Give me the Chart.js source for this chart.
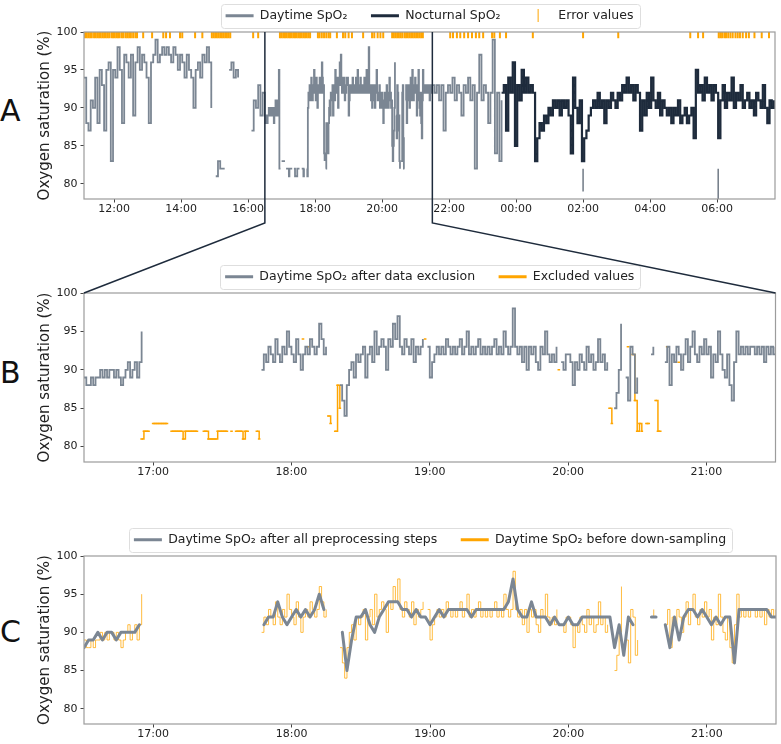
<!DOCTYPE html>
<html>
<head>
<meta charset="utf-8">
<title>SpO2 preprocessing</title>
<script src="https://cdn.jsdelivr.net/npm/chart.js@4.4.1/dist/chart.umd.min.js"></script>
<style>
  html, body { margin: 0; padding: 0; background: #fff; }
  body { width: 781px; height: 744px; position: relative; overflow: hidden; font-family: 'DejaVu Sans', sans-serif; }
  .panel { position: absolute; left: 0; }
  .letter { position: absolute; left: 0; font-size: 30px; line-height: 30px; color: #111; }
  #links { position: absolute; left: 0; top: 0; pointer-events: none; }
</style>
</head>
<body>
<div class="letter" style="top:96px">A</div>
<div class="letter" style="top:358px">B</div>
<div class="letter" style="top:617px">C</div>
<canvas id="chartA" class="panel" width="781" height="233" style="top:-14px"></canvas>
<canvas id="chartB" class="panel" width="781" height="235" style="top:247px"></canvas>
<canvas id="chartC" class="panel" width="781" height="234" style="top:510px"></canvas>
<canvas id="links" width="781" height="744"></canvas>
<script>
// Colours
const GRAY = '#7b8693';
const NAVY = '#1e2b3c';
const ORANGE = '#ffa500';

// Axes
const A_MIN = 11.1, A_MAX = 31.73;          // 11:06 -> 07:44 next morning (hours)
const ZOOM_MIN = 16.5, ZOOM_MAX = 21.5;     // 16:30 -> 21:30
const aTickHours = [12, 14, 16, 18, 20, 22, 24, 26, 28, 30];
const zoomTickHours = [17, 18, 19, 20, 21];
const Y_MIN = 78, Y_MAX = 100;
const yTicks = [80, 85, 90, 95, 100];

const _ = null;

// Daytime before the zoom window, one reading every 4 min from 11:06
const dayEarlyStart = '11:06';
const dayEarly = [
  94, 88, 87, 91, 90, 94, 88, 95, 93, 87,
  95, 96, 83, 95, 94, 98, 95, 88, 97, 96,
  94, 97, 89, 96, 98, 95, 97, 96, 94, 88,
  96, 97, 99, 96, 97, 98, 97, 98, 97, 96,
  98, 97, 95, 97, 96, 94, 97, 95, 94, 90,
  95, 96, 94, 97, 96, 98, 96, 90,  _, 81,
  83, 82, 82, 82,  _, 95, 96, 94, 95, 94,
   _,  _,  _,  _,  _, 87, 91, 90, 93, 89,
  92
];

// Zoom window 16:30-21:30, one value per minute
const zoomStart = '16:30';
const dayKept = [
  89, 88, 88, 89, 88, 89, 89, 90, 89, 90,
  89, 90, 90, 89, 90, 89, 88, 89, 90, 91,
  89, 90, 91, 89, 91, 95,  _,  _,  _,  _,
   _,  _,  _,  _,  _,  _,  _,  _,  _,  _,
   _,  _,  _,  _,  _,  _,  _,  _,  _,  _,
   _,  _,  _,  _,  _,  _,  _,  _,  _,  _,
   _,  _,  _,  _,  _,  _,  _,  _,  _,  _,
   _,  _,  _,  _,  _,  _,  _, 90, 92, 91,
  93, 92, 91, 94, 92, 91, 93, 92, 95, 93,
  92, 91, 94, 92, 90, 92, 93, 92, 94, 93,
  92, 93, 96, 94, 92, 93,  _,  _,  _,  _,
   _, 88, 86, 84, 88, 90, 91, 89, 92, 91,
  92, 93, 89, 92, 93, 91, 95, 92, 93, 94,
  93, 90, 94, 93, 96, 94, 97, 93, 92, 94,
  93, 92, 94, 91, 93, 92, 93, 94,  _, 93,
  89, 91, 92, 93, 92, 93, 92, 94, 93, 92,
  93, 92, 93, 94, 92, 93, 95, 92, 93, 92,
  93, 94, 92, 93, 92, 93, 92, 93, 94, 92,
  93, 92, 95, 93, 92, 93, 98, 93, 92, 93,
  91, 93, 90, 93, 92, 93, 91, 90, 93, 92,
  95, 92, 91, 92, 91, 93,  _, 91, 90, 92,
  92, 91, 88, 91, 90, 92, 91, 90, 93, 91,
  92, 90, 91, 94, 91, 92, 90, 91,  _,  _,
  85, 87, 90, 96,  _, 89, 86, 93, 92, 87,
  89,  _,  _,  _,  _,  _, 92, 93,  _,  _,
   _,  _, 91, 93, 88, 92, 91, 93, 92, 90,
  92, 94, 91, 93, 95, 92, 91, 93, 92, 94,
  92, 93, 89, 92, 91, 95, 92, 90, 89, 92,
  88, 86, 91, 95, 92, 93, 92, 93, 92, 93,
  93, 92, 93, 92, 93, 91, 93, 92, 93, 92,
  93
];
const dayExcluded = [
   _,  _,  _,  _,  _,  _,  _,  _,  _,  _,
   _,  _,  _,  _,  _,  _,  _,  _,  _,  _,
   _,  _,  _,  _,  _, 81, 82, 82, 82,  _,
  83, 83, 83, 83, 83, 83, 83,  _, 82, 82,
  82, 82, 82, 81, 82, 82, 82, 82, 82, 82,
   _,  _, 82, 82, 81, 81, 81, 81, 82, 82,
  82, 82, 82,  _, 82,  _, 82, 82, 82, 81,
  82, 82,  _,  _,  _, 82, 81,  _,  _,  _,
   _,  _,  _,  _,  _,  _,  _,  _,  _,  _,
   _,  _,  _,  _,  _, 94,  _, 93,  _,  _,
   _,  _,  _,  _,  _,  _, 84, 83,  _, 82,
  88, 85,  _,  _,  _,  _,  _,  _,  _,  _,
   _,  _,  _,  _,  _,  _,  _,  _,  _,  _,
   _,  _,  _,  _,  _,  _,  _,  _,  _,  _,
   _,  _,  _,  _,  _,  _,  _,  _, 94,  _,
   _,  _,  _,  _,  _,  _,  _,  _,  _,  _,
   _,  _,  _,  _,  _,  _,  _,  _,  _,  _,
   _,  _,  _,  _,  _,  _,  _,  _,  _,  _,
   _,  _,  _,  _,  _,  _,  _,  _,  _,  _,
   _,  _,  _,  _,  _,  _,  _,  _,  _,  _,
   _,  _,  _,  _,  _,  _, 90,  _,  _,  _,
   _,  _,  _,  _,  _,  _,  _,  _,  _,  _,
   _,  _,  _,  _,  _,  _,  _,  _, 85, 83,
   _,  _,  _,  _,  _,  _, 93,  _, 92, 86,
  82, 83, 82,  _, 83, 83,  _,  _, 86, 82,
  82,  _,  _, 93,  _,  _,  _,  _, 91,  _,
   _,  _,  _,  _,  _,  _,  _,  _,  _,  _,
   _,  _,  _,  _,  _,  _,  _,  _,  _,  _,
   _,  _,  _,  _,  _,  _,  _,  _,  _,  _,
   _,  _,  _,  _,  _,  _,  _,  _,  _,  _,
   _
];

// Daytime after the zoom window, every 4 min from 21:34
const dayLateStart = '21:34';
const dayLate = [
  92, 93, 91, 93, 87, 92, 93, 92, 94, 91,
  93, 92, 89, 93, 92, 94, 91, 93, 82, 92,
  97, 91, 93, 92, 88, 92, 99, 84, 92, 83,
  91
];

// Nocturnal, every 4 min from 23:34
const nightStart = '23:34';
const night = [
  92, 93, 87, 94, 92, 96, 85,
  93, 91, 95, 92, 94, 92, 93, 92, 83, 86, 88, 87, 89, 88, 90,
  89, 91, 90, 91, 89, 91, 90, 91, 89, 84, 94, 90, 88, 91, 83,
  86, 87, 89, 90, 91, 90, 92, 90, 91, 88, 91, 90, 92, 91, 90,
  92, 91, 93, 92, 94, 92, 93, 91, 93, 92, 87, 91, 89, 92, 90,
  94, 91, 90, 92, 89, 91, 90, 89, 90, 88, 90, 89, 91, 88, 89,
  90, 88, 89, 90, 86, 95, 92, 93, 91, 94, 92, 93, 91, 93, 92,
  86, 91, 93, 90, 92, 91, 94, 90, 92, 91, 93, 90, 91, 92, 90,
  91, 89, 92, 91, 90, 93, 90, 88, 91, 90, 91
];
const nightDropTimes = ['02:00', '06:02'];
const nightDropTop = [82, 82];
const nightDropBottom = [79, 78];

const errorTimes = [
  '11:08','11:11','11:14','11:17','11:20','11:24','11:27','11:30','11:33','11:36',
  '11:39','11:42','11:45','11:48','11:51','11:55','11:58','12:01','12:04','12:07',
  '12:10','12:14','12:17','12:21','12:24','12:27','12:30','12:34','12:38','12:41',
  '12:52','13:08','13:28','13:33','13:40','13:58','14:02','14:25','14:38',
  '14:55','14:58','15:01','15:04','15:07','15:10','15:13','15:16','15:19','15:22','15:25','15:28',
  '16:09','16:18',
  '16:57','17:00','17:03','17:06','17:09','17:12','17:15','17:18','17:21','17:24',
  '17:27','17:30','17:33','17:36','17:39','17:42','17:45','17:48','17:51',
  '18:05','18:08','18:12','18:16','18:20','18:24','18:27',
  '18:39','18:50','18:54','19:00','19:06','19:26','19:42','19:46','19:52','19:57','20:02',
  '20:18','20:21','20:24','20:27','20:30','20:33','20:36','20:40','20:43','20:46',
  '20:49','20:52','20:55','20:58','21:01','21:04','21:07','21:10','21:13',
  '22:02','22:07','22:14','22:20','22:27','22:34','22:41','22:48','22:54','23:01',
  '23:17','23:21','23:31','23:42',
  '00:30','02:00','03:03','05:12','05:26','05:35',
  '06:03','06:06','06:09','06:13','06:16','06:20','06:24','06:28','06:33','06:37',
  '06:41','06:46','06:52','06:57','07:07','07:20','07:33'
];
const ERROR_Y = 99.6;

// Down-sampled daytime, every 2 min from 16:30
const dayResampled = [
  88, 89, 89, 90, 89, 90, 90, 89, 90, 90,
  90, 90, 91,  _,  _,  _,  _,  _,  _,  _,
   _,  _,  _,  _,  _,  _,  _,  _,  _,  _,
   _,  _,  _,  _,  _,  _,  _,  _,  _, 91,
  92, 92, 94, 92, 91, 92, 93, 92, 93, 92,
  93, 95, 93,  _,  _,  _, 90, 85, 89, 92,
  92, 93, 91, 90, 92, 93, 94, 94, 94, 93,
  93, 92, 93, 92, 92, 91, 92, 93, 92, 93,
  93, 93, 93, 93, 92, 93, 93, 93, 93, 93,
  93, 93, 94, 97, 93, 92, 92, 94, 92, 92,
  92, 91, 92, 91, 91, 92, 91, 91, 92, 92,
  92, 92, 92, 92, 92, 88, 91, 87, 92, 91,
   _,  _,  _, 92, 92,  _, 91, 88, 92, 89,
  92, 93, 93, 92, 93, 92, 91, 92, 91, 92,
  92, 86, 93, 93, 93, 93, 93, 93, 93, 92,
  92
];

// helpers
function clock(s) {
  const [h, m] = s.split(':').map(Number);
  return (h < 11 ? h + 24 : h) + m / 60;
}
function series(start, stepMin, values) {
  const t0 = clock(start);
  return values.map((v, i) => ({ x: t0 + i * stepMin / 60, y: v }));
}
function clockLabel(v) {
  const h = Math.floor(v + 1e-6);
  const m = Math.round((v - h) * 60);
  return String(h % 24).padStart(2, '0') + ':' + String(m).padStart(2, '0');
}

// small vertical tick used as legend marker for the error values
const errorMarker = document.createElement('canvas');
errorMarker.width = 3;
errorMarker.height = 13;
(function () {
  const c = errorMarker.getContext('2d');
  c.strokeStyle = ORANGE;
  c.lineWidth = 1;
  c.beginPath();
  c.moveTo(1.5, 0);
  c.lineTo(1.5, 13);
  c.stroke();
})();

Chart.defaults.font.family = "'DejaVu Sans', sans-serif";
Chart.defaults.color = '#222';

const baseLabels = Chart.defaults.plugins.legend.labels.generateLabels;

const framePlugin = {
  id: 'frame',
  afterDraw(chart) {
    const { ctx, chartArea: a, legend } = chart;
    ctx.save();
    ctx.strokeStyle = '#9c9c9c';
    ctx.lineWidth = 1.2;
    ctx.strokeRect(a.left, a.top, a.right - a.left, a.bottom - a.top);
    const boxes = legend ? legend.legendHitBoxes : [];
    if (boxes.length) {
      const left = Math.min(...boxes.map(b => b.left)) - 5;
      const right = Math.max(...boxes.map(b => b.left + b.width)) + 6;
      const mid = boxes[0].top + boxes[0].height / 2;
      ctx.strokeStyle = '#dedede';
      ctx.lineWidth = 1;
      ctx.beginPath();
      ctx.roundRect(Math.round(left) + 0.5, Math.round(mid - 12) + 0.5, Math.round(right - left), 24, 3);
      ctx.stroke();
    }
    ctx.restore();
  }
};

function panelOptions(xMin, xMax, xTicks) {
  const tickGrid = { drawOnChartArea: false, drawTicks: true, tickLength: 3.5, tickColor: '#444' };
  return {
    responsive: false,
    animation: false,
    events: [],
    layout: { padding: { left: 32, right: 5, top: 0, bottom: 0 } },
    plugins: {
      tooltip: { enabled: false },
      legend: {
        position: 'top',
        fullSize: false,
        labels: {
          usePointStyle: true,
          pointStyleWidth: 28,
          boxHeight: 8.5,
          padding: 23.5,
          color: '#222',
          font: { size: 12.5 },
          filter: (item, data) => !data.datasets[item.datasetIndex].hideInLegend,
          generateLabels: chart => baseLabels(chart).map(item => {
            const ds = chart.data.datasets[item.datasetIndex];
            if (ds.legendLineWidth) item.lineWidth = ds.legendLineWidth;
            if (ds.legendColor) item.strokeStyle = ds.legendColor;
            if (ds.legendMarker) { item.pointStyle = ds.legendMarker; item.rotation = 0; }
            return item;
          })
        }
      }
    },
    scales: {
      x: {
        type: 'linear',
        min: xMin,
        max: xMax,
        afterBuildTicks: s => { s.ticks = xTicks.map(v => ({ value: v })); },
        afterFit: s => { s.height = 20; },
        ticks: { callback: v => clockLabel(v), font: { size: 11 }, padding: 0, maxRotation: 0, autoSkip: false },
        grid: tickGrid,
        border: { display: false }
      },
      y: {
        min: Y_MIN,
        max: Y_MAX,
        afterBuildTicks: s => { s.ticks = yTicks.map(v => ({ value: v })); },
        afterFit: s => { s.width = 52; },
        title: { display: true, text: 'Oxygen saturation (%)', font: { size: 15 }, padding: { top: 4, bottom: 4 } },
        ticks: { font: { size: 11 }, padding: 3 },
        grid: tickGrid,
        border: { display: false }
      }
    }
  };
}

function lineSet(label, data, color, width, extra) {
  return Object.assign({
    label, data,
    borderColor: color,
    backgroundColor: color,
    borderWidth: width,
    stepped: true,
    pointRadius: 0,
    pointStyle: 'line',
    spanGaps: false,
    legendLineWidth: 3
  }, extra || {});
}

// Panel A
const dayWindow = dayKept.map((v, i) => v ?? dayExcluded[i]);
const aDay = series(dayEarlyStart, 4, dayEarly)
  .concat(series(zoomStart, 1, dayWindow))
  .concat(series(dayLateStart, 4, dayLate));
const aNight = series(nightStart, 4, night);
const aNightDrops = nightDropTimes.flatMap((t, i) => [
  { x: clock(t), y: nightDropTop[i] },
  { x: clock(t), y: nightDropBottom[i] },
  { x: clock(t), y: null }
]);
const aErrors = errorTimes.map(t => ({ x: clock(t), y: ERROR_Y }));

const chartA = new Chart(document.getElementById('chartA'), {
  type: 'line',
  data: {
    datasets: [
      lineSet('Daytime SpO\u2082', aDay, GRAY, 1.8),
      lineSet('Nocturnal SpO\u2082', aNight, NAVY, 2.2),
      {
        label: 'Error values',
        data: aErrors,
        showLine: false,
        pointStyle: 'line',
        pointRotation: 90,
        pointRadius: 3.2,
        pointBorderWidth: 2,
        pointBorderColor: ORANGE,
        borderColor: ORANGE,
        backgroundColor: ORANGE,
        legendMarker: errorMarker
      },
      lineSet('drops', aNightDrops, '#5b6674', 1.3, { stepped: false, hideInLegend: true })
    ]
  },
  options: panelOptions(A_MIN, A_MAX, aTickHours),
  plugins: [framePlugin]
});

// Panel B
const chartB = new Chart(document.getElementById('chartB'), {
  type: 'line',
  data: {
    datasets: [
      lineSet('Daytime SpO\u2082 after data exclusion', series(zoomStart, 1, dayKept), GRAY, 1.8),
      lineSet('Excluded values', series(zoomStart, 1, dayExcluded), ORANGE, 1.5,
        { pointRadius: 1.3, pointBorderWidth: 1.5, pointBorderColor: ORANGE })
    ]
  },
  options: panelOptions(ZOOM_MIN, ZOOM_MAX, zoomTickHours),
  plugins: [framePlugin]
});

// Panel C
const chartC = new Chart(document.getElementById('chartC'), {
  type: 'line',
  data: {
    datasets: [
      lineSet('Daytime SpO\u2082 after all preprocessing steps', series(zoomStart, 2, dayResampled), GRAY, 3,
        { stepped: false, borderJoinStyle: 'round', borderCapStyle: 'round' }),
      lineSet('Daytime SpO\u2082 before down-sampling', series(zoomStart, 1, dayKept), 'rgba(255,165,0,0.75)', 1,
        { legendColor: ORANGE })
    ]
  },
  options: panelOptions(ZOOM_MIN, ZOOM_MAX, zoomTickHours),
  plugins: [framePlugin]
});

// zoom connector between panel A and panel B
(function drawLinks() {
  const ctx = document.getElementById('links').getContext('2d');
  const aTop = chartA.canvas.offsetTop;
  const bTop = chartB.canvas.offsetTop;
  const areaA = chartA.chartArea;
  const areaB = chartB.chartArea;
  const kneeY = aTop + areaA.bottom + 24;
  const edges = [[ZOOM_MIN, areaB.left], [ZOOM_MAX, areaB.right]];
  ctx.strokeStyle = NAVY;
  ctx.lineWidth = 1.5;
  edges.forEach(([t, edgeX]) => {
    const x = chartA.scales.x.getPixelForValue(t);
    ctx.beginPath();
    ctx.moveTo(x, aTop + areaA.top);
    ctx.lineTo(x, kneeY);
    ctx.lineTo(edgeX, bTop + areaB.top);
    ctx.stroke();
  });
})();
</script>
</body>
</html>
